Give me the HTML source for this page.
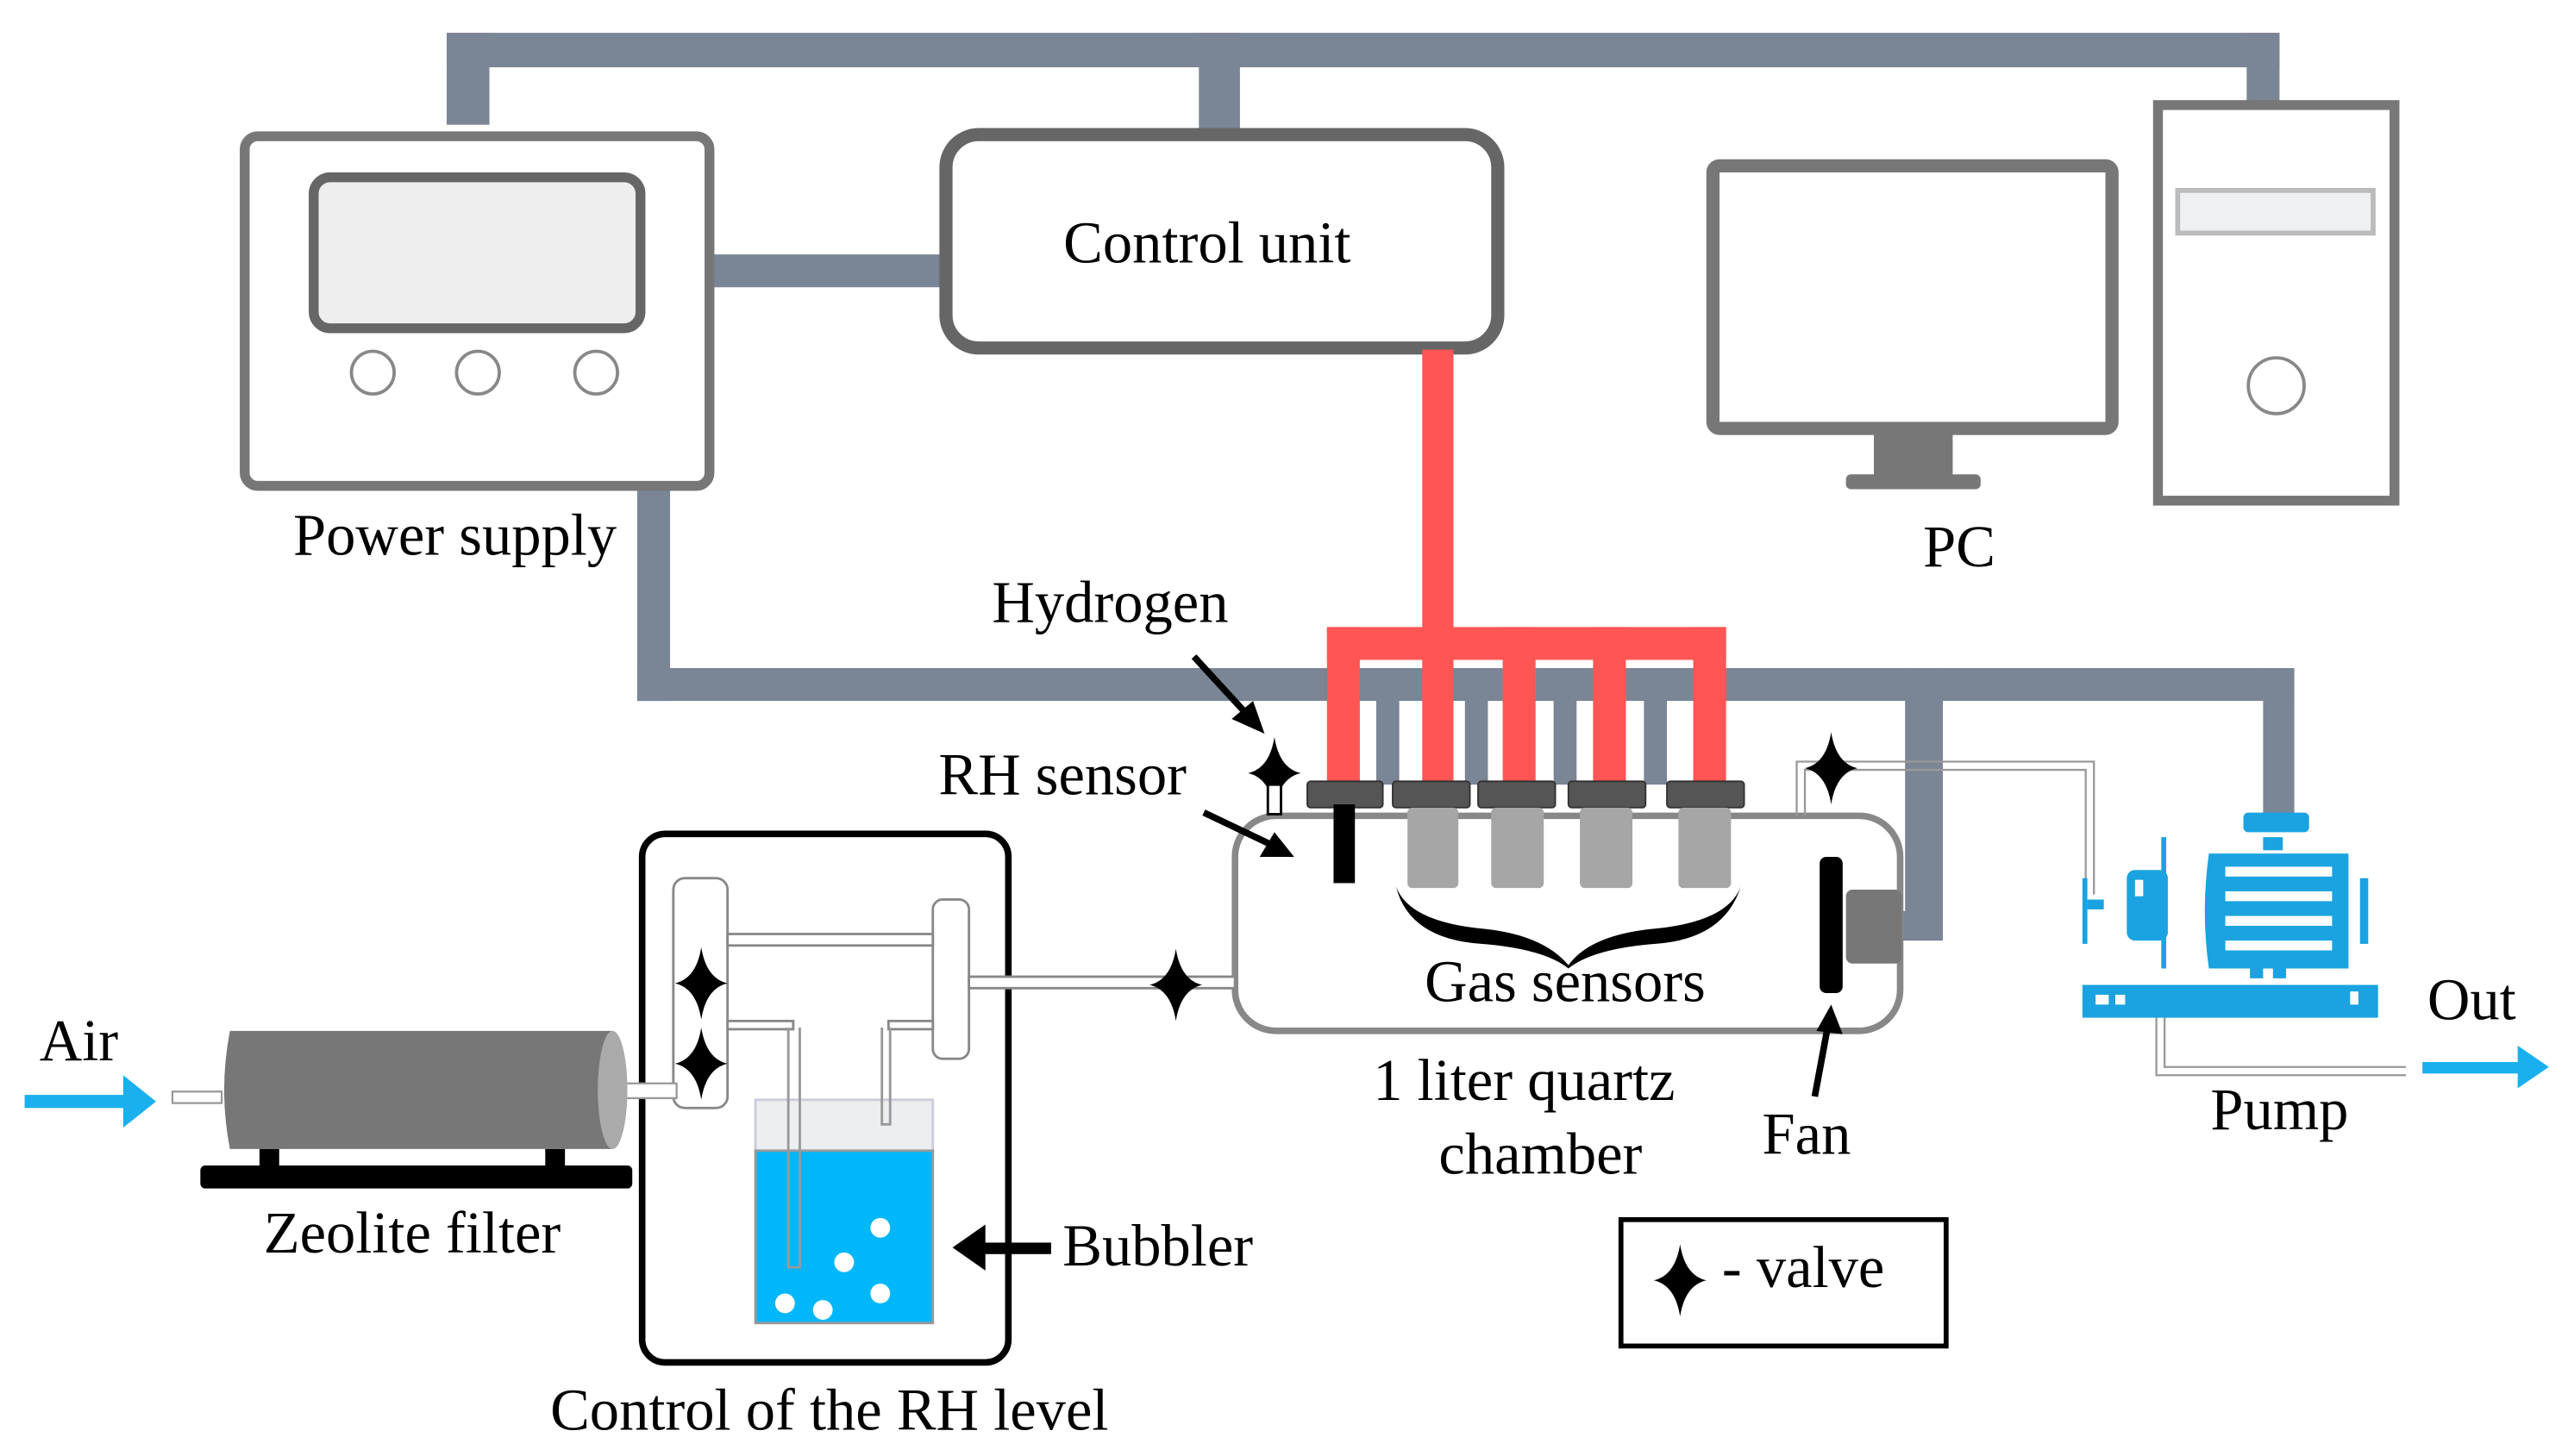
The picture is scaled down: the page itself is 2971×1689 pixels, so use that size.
<!DOCTYPE html>
<html><head><meta charset="utf-8"><style>
html,body{margin:0;padding:0;background:#fff;}
svg{display:block}
text{font-family:"Liberation Serif",serif;font-size:36px;fill:#000;text-anchor:middle}
</style></head><body>
<svg width="2971" height="1689" viewBox="0 0 1560 887" preserveAspectRatio="none" xmlns="http://www.w3.org/2000/svg">
<defs>
<path id="star" d="M0,-22 Q3,-3 16,0 Q3,3 0,22 Q-3,3 -16,0 Q-3,-3 0,-22Z"/>
</defs>
<g fill="#7a8595">
<rect x="272" y="20" width="1116" height="21"/>
<rect x="272" y="20" width="26" height="56"/>
<rect x="730" y="20" width="25" height="60"/>
<rect x="1368" y="20" width="20" height="45"/>
<rect x="430" y="155" width="147" height="20"/>
<rect x="388" y="297" width="20" height="130"/>
<rect x="388" y="407" width="1009" height="20"/>
<rect x="1378" y="407" width="19" height="90"/>
<rect x="1160" y="407" width="23" height="166"/>
<rect x="1150" y="555" width="33" height="18"/>
<rect x="838" y="420" width="14" height="58"/>
<rect x="892" y="420" width="14" height="58"/>
<rect x="946" y="420" width="14" height="58"/>
<rect x="1001" y="420" width="14" height="58"/>
</g>
<rect x="149" y="83" width="283" height="213" rx="8" fill="#fff" stroke="#777" stroke-width="6"/>
<rect x="191" y="108" width="199" height="92" rx="10" fill="#eee" stroke="#666" stroke-width="6"/>
<g fill="#fff" stroke="#888" stroke-width="2"><circle cx="227" cy="227" r="13"/><circle cx="291" cy="227" r="13"/><circle cx="363" cy="227" r="13"/></g>
<text x="277" y="338">Power supply</text>
<rect x="576" y="82" width="336" height="130" rx="20" fill="#fff" stroke="#666" stroke-width="8"/>
<text x="735" y="160">Control unit</text>
<rect x="1043" y="101" width="243" height="160" rx="4" fill="#fff" stroke="#777" stroke-width="8"/>
<rect x="1141" y="262" width="48" height="30" fill="#777"/>
<rect x="1124" y="289" width="82" height="9" rx="3" fill="#777"/>
<rect x="1314" y="64" width="144" height="241" fill="#fff" stroke="#777" stroke-width="6"/>
<rect x="1326" y="116" width="119" height="26" fill="#eef0f2" stroke="#bbb" stroke-width="3"/>
<circle cx="1386" cy="235" r="17" fill="#fff" stroke="#888" stroke-width="2"/>
<text x="1193" y="345">PC</text>
<g fill="#ff5555">
<rect x="866" y="213" width="19" height="265"/>
<rect x="808" y="382" width="243" height="20"/>
<rect x="808" y="382" width="20" height="96"/>
<rect x="915" y="382" width="20" height="96"/>
<rect x="970" y="382" width="20" height="96"/>
<rect x="1031" y="382" width="20" height="96"/>
</g>
<rect x="752" y="497" width="405" height="131" rx="25" fill="#fff" stroke="#888" stroke-width="4"/>
<g fill="#555" stroke="#333" stroke-width="1">
<rect x="796" y="476" width="46" height="16" rx="2"/>
<rect x="848" y="476" width="47" height="16" rx="2"/>
<rect x="900" y="476" width="47" height="16" rx="2"/>
<rect x="955" y="476" width="47" height="16" rx="2"/>
<rect x="1015" y="476" width="47" height="16" rx="2"/>
</g>
<g fill="#a6a6a6">
<rect x="857" y="492" width="31" height="49" rx="3"/>
<rect x="908" y="492" width="32" height="49" rx="3"/>
<rect x="962" y="492" width="32" height="49" rx="3"/>
<rect x="1022" y="492" width="32" height="49" rx="3"/>
</g>
<rect x="812" y="490" width="13" height="48" fill="#000"/>
<path d="M850,540 Q858,562 905,566 Q940,570 955,588 Q968,570 1005,566 Q1052,562 1060,540 Q1050,572 1008,575 Q970,578 955,590 Q940,578 902,575 Q858,572 850,540Z" fill="#000"/>
<text x="953" y="610">Gas sensors</text>
<rect x="1108" y="522" width="14" height="83" rx="4" fill="#000"/>
<rect x="1124" y="542" width="34" height="45" rx="4" fill="#777"/>
<line x1="1105" y1="668" x2="1113" y2="625" stroke="#000" stroke-width="4"/>
<path d="M1115,612 L1122,630 L1106,628Z" fill="#000"/>
<text x="1100" y="703">Fan</text>
<text x="928" y="670">1 liter quartz</text>
<text x="938" y="715">chamber</text>
<use href="#star" x="776" y="471"/>
<rect x="772" y="478" width="8" height="18" fill="#fff" stroke="#000" stroke-width="1.5"/>
<g fill="none" stroke="#999" stroke-width="1.2">
<path d="M1094,497 V464 H1275 V545"/>
<path d="M1099,497 V469 H1270 V545"/>
<path d="M1313,600 V655 H1465"/>
<path d="M1318,600 V650 H1465"/>
</g>
<use href="#star" x="1115" y="468"/>
<text x="676" y="379">Hydrogen</text>
<line x1="727" y1="400" x2="760" y2="436" stroke="#000" stroke-width="4"/>
<path d="M770,447 L750,438 L763,427Z" fill="#000"/>
<text x="647" y="484">RH sensor</text>
<line x1="733" y1="495" x2="775" y2="515" stroke="#000" stroke-width="4"/>
<path d="M788,522 L767,522 L776,507Z" fill="#000"/>
<g fill="#1aa3e0">
<rect x="1366" y="495" width="40" height="12" rx="3"/>
<rect x="1378" y="510" width="12" height="8"/>
<path d="M1345,520 H1430 V590 H1345 Q1340,555 1345,520Z"/>
<rect x="1437" y="535" width="5" height="40"/>
<rect x="1295" y="530" width="25" height="43" rx="5"/>
<rect x="1271" y="548" width="10" height="6"/>
<rect x="1268" y="535" width="3" height="40"/>
<rect x="1316" y="510" width="3" height="80"/>
<rect x="1268" y="600" width="180" height="20"/>
<rect x="1370" y="590" width="8" height="6"/><rect x="1384" y="590" width="8" height="6"/>
</g>
<g fill="#fff"><rect x="1355" y="528" width="65" height="6"/><rect x="1355" y="543" width="65" height="6"/><rect x="1355" y="558" width="65" height="6"/><rect x="1355" y="573" width="65" height="6"/>
<rect x="1300" y="536" width="5" height="10"/><rect x="1276" y="606" width="8" height="6"/><rect x="1288" y="606" width="6" height="6"/><rect x="1431" y="604" width="5" height="8"/></g>
<text x="1388" y="688">Pump</text>
<text x="1505" y="621">Out</text>
<rect x="1475" y="647" width="60" height="7" fill="#1ab0f0"/>
<path d="M1533,637 L1552,650 L1533,663Z" fill="#1ab0f0"/>
<rect x="391" y="508" width="223" height="322" rx="14" fill="#fff" stroke="#000" stroke-width="4"/>
<g fill="#fff" stroke="#888" stroke-width="1.5">
<rect x="410" y="535" width="33" height="140" rx="7"/>
<rect x="568" y="548" width="22" height="97" rx="6"/>
<rect x="443" y="569" width="125" height="7"/>
<rect x="590" y="595" width="162" height="7"/>
<rect x="443" y="622" width="40" height="5"/>
<rect x="541" y="622" width="27" height="5"/>
</g>
<rect x="460" y="670" width="108" height="32" fill="#eceef1" stroke="#ccd" stroke-width="1.5"/>
<rect x="460" y="701" width="108" height="105" fill="#00b7fb" stroke="#999" stroke-width="1.5"/>
<g fill="none" stroke="#999" stroke-width="1.5"><path d="M480,626 V772 H487 V626"/><path d="M537,626 V685 H542 V626"/></g>
<g fill="#fff"><ellipse cx="536" cy="748" rx="6" ry="6"/><ellipse cx="514" cy="769" rx="6" ry="6"/><ellipse cx="536" cy="788" rx="6" ry="6"/><ellipse cx="478" cy="794" rx="6" ry="6"/><ellipse cx="501" cy="798" rx="6" ry="6"/></g>
<use href="#star" x="427" y="599"/>
<use href="#star" x="427" y="648"/>
<use href="#star" x="716" y="600"/>
<text x="705" y="771">Bubbler</text>
<rect x="598" y="757" width="42" height="7" fill="#000"/>
<path d="M580,760 L600,746 L600,774Z" fill="#000"/>
<text x="505" y="871">Control of the RH level</text>
<rect x="105" y="665" width="30" height="7" fill="#fff" stroke="#999" stroke-width="1.2"/>
<rect x="372" y="660" width="40" height="9" fill="#fff" stroke="#999" stroke-width="1.2"/>
<path d="M140,628 H373 V700 H140 Q133,664 140,628Z" fill="#777"/>
<ellipse cx="373" cy="664" rx="9" ry="36" fill="#aaa"/>
<rect x="122" y="710" width="263" height="14" rx="3" fill="#000"/>
<rect x="158" y="700" width="12" height="12" fill="#000"/><rect x="332" y="700" width="12" height="12" fill="#000"/>
<text x="251" y="763">Zeolite filter</text>
<text x="48" y="646">Air</text>
<rect x="15" y="667" width="62" height="8" fill="#1ab0f0"/>
<path d="M75,655 L95,671 L75,687Z" fill="#1ab0f0"/>
<rect x="987" y="743" width="198" height="77" fill="#fff" stroke="#000" stroke-width="3"/>
<use href="#star" x="1023" y="780"/>
<text x="1098" y="784">-  valve</text>
</svg>
</body></html>
